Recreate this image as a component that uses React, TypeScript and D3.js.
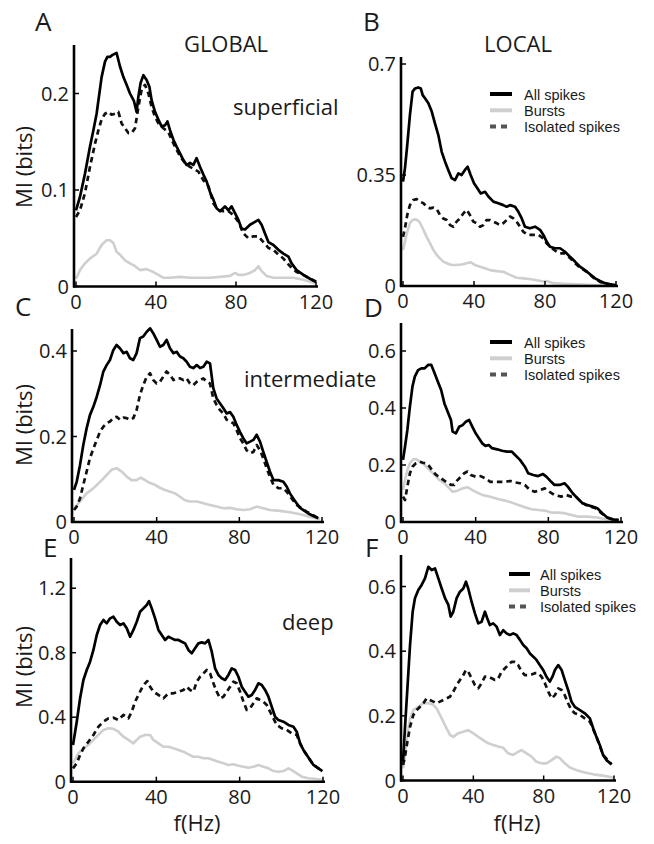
import React from "react";
import * as d3 from "d3";

type P = [number, number];

// ---------- DATA (f in Hz, MI in bits) ----------
const xTicks = [0, 40, 80, 120];
const yTicksA = [0, 0.1, 0.2];
const yTicksB = [0, 0.35, 0.7];
const yTicksC = [0, 0.2, 0.4];
const yTicksD = [0, 0.2, 0.4, 0.6];
const yTicksE = [0, 0.4, 0.8, 1.2];
const yTicksF = [0, 0.2, 0.4, 0.6];

const legendLabels = ["All spikes", "Bursts", "Isolated spikes"];
const columnTitles = ["GLOBAL", "LOCAL"];
const layerLabels = ["superficial", "intermediate", "deep"];
const panelLetters = ["A", "B", "C", "D", "E", "F"];

const aAll: P[] = [[0,0.079],[2,0.093],[4.5,0.117],[7,0.145],[8.7,0.162],[10.3,0.179],[12.8,0.217],[14.5,0.233],[15.7,0.238],[17,0.238],[18.3,0.24],[20.3,0.242],[22,0.228],[23.7,0.217],[25.3,0.209],[27,0.2],[29,0.192],[30.3,0.181],[31.2,0.197],[32.3,0.211],[33.7,0.219],[35.3,0.214],[36.7,0.207],[37.8,0.193],[39.5,0.181],[41.2,0.173],[42.8,0.166],[44.5,0.167],[45.7,0.171],[47,0.162],[48.7,0.152],[50.3,0.145],[52,0.138],[53.7,0.131],[55.3,0.126],[57,0.128],[58.7,0.126],[60.3,0.133],[62,0.124],[63.7,0.116],[65.3,0.109],[67,0.098],[68.7,0.09],[70.3,0.081],[72,0.078],[74.5,0.083],[76.2,0.079],[77.8,0.083],[79.5,0.076],[81.2,0.069],[82.8,0.06],[84.5,0.059],[87,0.064],[89.5,0.067],[91.2,0.069],[92.8,0.064],[94.5,0.055],[96.2,0.046],[98.7,0.043],[101.2,0.038],[103.7,0.034],[106.2,0.031],[107.8,0.024],[110.3,0.017],[113.7,0.012],[117,0.008],[120,0.005]];
const aIsolated: P[] = [[0,0.072],[2,0.079],[4.5,0.097],[7,0.124],[9.5,0.148],[11.2,0.162],[12.8,0.173],[14.5,0.179],[16.2,0.181],[17.8,0.178],[19.5,0.179],[21.2,0.181],[22.8,0.169],[24.5,0.164],[26.2,0.159],[27.8,0.159],[29.5,0.164],[31.2,0.186],[32.8,0.204],[34.5,0.209],[36.2,0.2],[37.8,0.186],[39.5,0.176],[41.2,0.169],[43.7,0.164],[46.2,0.16],[47.8,0.152],[49.5,0.145],[52,0.135],[54.5,0.128],[57,0.124],[59.5,0.121],[61.2,0.119],[63.7,0.11],[66.2,0.104],[68.7,0.086],[71.2,0.079],[73.7,0.078],[76.2,0.078],[78.7,0.074],[81.2,0.067],[83.7,0.055],[86.2,0.05],[88.7,0.052],[91.2,0.052],[93.7,0.046],[96.2,0.04],[98.7,0.038],[101.2,0.033],[103.7,0.029],[107,0.021],[110.3,0.015],[113.7,0.012],[117,0.008],[120,0.005]];
const aBursts: P[] = [[0,0.008],[2,0.017],[4.5,0.024],[7,0.029],[10.3,0.034],[12.8,0.043],[15.3,0.048],[17,0.048],[18.7,0.045],[20.3,0.036],[22,0.033],[24.5,0.027],[27,0.024],[29.5,0.021],[32,0.017],[35.3,0.018],[38.7,0.015],[41.2,0.012],[43.7,0.009],[47,0.009],[52,0.01],[57,0.009],[62,0.009],[67,0.009],[72,0.01],[77,0.011],[79.5,0.014],[81.2,0.012],[83.7,0.012],[87,0.014],[89.5,0.017],[91.2,0.021],[92.8,0.016],[95.3,0.011],[98.7,0.009],[103.7,0.009],[108.7,0.009],[113.7,0.007],[120,0.003]];

const bAll: P[] = [[0,0.329],[1.1,0.371],[2.4,0.445],[3.9,0.539],[5.4,0.613],[6.8,0.623],[8.6,0.626],[10,0.623],[11.1,0.602],[12.4,0.592],[14.3,0.576],[16.2,0.55],[18,0.513],[19.9,0.476],[21.8,0.423],[23.7,0.392],[25.5,0.366],[27.4,0.34],[29.3,0.334],[31.2,0.355],[33,0.35],[34.9,0.366],[36.4,0.376],[38.1,0.35],[40,0.324],[41.9,0.308],[43.8,0.292],[46.2,0.297],[48.1,0.282],[50.9,0.266],[53.7,0.261],[56.5,0.255],[58.4,0.25],[60.3,0.255],[63.1,0.25],[65,0.234],[66.9,0.213],[68.7,0.187],[71.5,0.182],[74.4,0.187],[77.2,0.177],[79.1,0.161],[80.9,0.14],[82.8,0.124],[85.6,0.119],[88.5,0.119],[91.3,0.108],[94.1,0.092],[96.9,0.077],[99.7,0.061],[102.5,0.05],[105.4,0.037],[108.2,0.024],[111,0.016],[113.8,0.009],[116.6,0.005],[120,0.003]];
const bIsolated: P[] = [[0,0.155],[1.1,0.182],[2.4,0.224],[3.9,0.255],[5.8,0.271],[7.7,0.274],[9.6,0.266],[11.5,0.261],[13.3,0.25],[15.2,0.245],[17.1,0.247],[19,0.243],[20.8,0.224],[22.7,0.213],[24.6,0.208],[26.5,0.192],[28.4,0.187],[30.2,0.203],[32.1,0.213],[34,0.229],[35.9,0.24],[37.7,0.224],[39.6,0.203],[41.5,0.198],[43.4,0.187],[45.3,0.192],[47.1,0.208],[49,0.208],[50.9,0.203],[52.8,0.198],[54.6,0.192],[56.5,0.198],[58.4,0.208],[60.3,0.219],[62.2,0.213],[64,0.203],[65.9,0.187],[67.8,0.171],[70.6,0.161],[73.4,0.161],[76.3,0.161],[79.1,0.15],[80.9,0.135],[83.8,0.119],[86.6,0.108],[88.5,0.103],[91.3,0.103],[94.1,0.088],[96.9,0.072],[99.7,0.058],[103.5,0.045],[107.3,0.026],[111,0.013],[114.7,0.007],[120,0.003]];
const bBursts: P[] = [[0,0.114],[1.1,0.14],[2.4,0.171],[3.9,0.198],[5.4,0.208],[7.3,0.21],[9.2,0.203],[11.1,0.182],[13.3,0.155],[15.2,0.135],[17.1,0.114],[19,0.098],[20.8,0.087],[22.7,0.077],[24.6,0.072],[27.4,0.066],[30.2,0.066],[33,0.068],[35.9,0.072],[38.1,0.075],[40.6,0.066],[43.4,0.061],[46.2,0.056],[49,0.05],[52.8,0.047],[56.5,0.045],[60.3,0.035],[64,0.026],[67.8,0.024],[71.5,0.022],[75.3,0.018],[79.1,0.014],[80.9,0.016],[84.7,0.009],[90.3,0.007],[97.8,0.005],[107.3,0.003],[120,0.001]];

const cAll: P[] = [[0,0.075],[1.3,0.094],[2.9,0.133],[4.5,0.18],[6.1,0.219],[7.7,0.25],[9.4,0.27],[11,0.293],[12.6,0.32],[14.2,0.352],[15.8,0.367],[17.4,0.379],[19,0.402],[20.6,0.414],[22.3,0.406],[23.9,0.395],[25.5,0.398],[27.1,0.383],[28.7,0.379],[30.3,0.395],[31.9,0.43],[33.5,0.434],[35.2,0.445],[36.8,0.453],[38.4,0.441],[40,0.426],[41.6,0.41],[43.2,0.414],[44.8,0.426],[46.5,0.406],[48.1,0.395],[49.7,0.398],[51.3,0.387],[52.9,0.383],[54.5,0.375],[56.1,0.363],[57.7,0.36],[59.4,0.367],[61,0.36],[62.6,0.363],[64.2,0.375],[65.8,0.371],[67.4,0.313],[69,0.289],[70.6,0.278],[72.3,0.266],[73.9,0.254],[75.5,0.257],[77.1,0.246],[78.7,0.227],[80.3,0.211],[81.9,0.196],[83.5,0.184],[85.2,0.188],[86.8,0.192],[88.4,0.204],[90,0.188],[91.6,0.164],[93.2,0.141],[94.8,0.118],[96.5,0.098],[98.9,0.098],[101.3,0.094],[102.9,0.083],[104.5,0.067],[106.1,0.055],[107.7,0.044],[109.4,0.033],[111,0.028],[113.4,0.02],[115.8,0.014],[118.2,0.009]];
const cIsolated: P[] = [[0,0.028],[1.3,0.036],[2.9,0.055],[4.5,0.087],[6.1,0.118],[7.7,0.149],[9.4,0.172],[11,0.192],[12.6,0.211],[14.2,0.223],[15.8,0.231],[17.4,0.235],[19,0.243],[20.6,0.246],[22.3,0.239],[23.9,0.244],[25.5,0.243],[27.1,0.239],[28.7,0.243],[30.3,0.262],[31.9,0.297],[33.5,0.32],[35.2,0.34],[36.8,0.348],[38.4,0.332],[40,0.324],[41.6,0.328],[43.2,0.34],[44.8,0.352],[46.5,0.344],[48.1,0.332],[49.7,0.336],[51.3,0.336],[52.9,0.332],[54.5,0.336],[56.1,0.324],[57.7,0.32],[59.4,0.328],[61,0.332],[62.6,0.336],[64.2,0.328],[65.8,0.324],[67.4,0.289],[69,0.274],[70.6,0.262],[72.3,0.254],[73.9,0.239],[75.5,0.235],[77.1,0.231],[78.7,0.215],[80.3,0.196],[81.9,0.184],[83.5,0.168],[85.2,0.161],[86.8,0.164],[88.4,0.18],[90,0.168],[91.6,0.149],[93.2,0.126],[94.8,0.106],[96.5,0.087],[98.9,0.079],[101.3,0.079],[102.9,0.071],[105.3,0.055],[107.7,0.04],[110.2,0.032],[112.6,0.024],[115,0.018],[118.2,0.009]];
const cBursts: P[] = [[0,0.032],[2.9,0.048],[6.1,0.067],[9.4,0.079],[12.6,0.094],[15.8,0.11],[18.2,0.122],[20.6,0.126],[23.1,0.118],[25.5,0.106],[27.9,0.098],[30.3,0.098],[32.3,0.104],[34.4,0.098],[36.8,0.091],[39.2,0.087],[41.6,0.08],[44,0.075],[46.5,0.071],[48.9,0.067],[51.3,0.059],[53.7,0.051],[56.1,0.048],[59.4,0.048],[62.6,0.044],[65.8,0.04],[69,0.036],[72.3,0.032],[75.5,0.033],[78.7,0.03],[81.9,0.028],[85.2,0.03],[88.4,0.036],[91.6,0.032],[94.8,0.028],[99.7,0.026],[104.5,0.023],[109.4,0.018],[114.2,0.012],[119,0.007]];

const dAll: P[] = [[0,0.218],[1.1,0.264],[2.4,0.323],[3.8,0.405],[5.2,0.475],[6.5,0.51],[8.3,0.533],[10.1,0.539],[11.9,0.539],[13.8,0.551],[15.6,0.551],[17.4,0.522],[19.2,0.492],[21,0.463],[22.8,0.416],[24.6,0.387],[26.4,0.358],[27.3,0.317],[29.1,0.311],[30.9,0.334],[32.8,0.34],[34.6,0.352],[36.4,0.358],[38.2,0.334],[40,0.311],[41.8,0.294],[43.6,0.276],[45.4,0.267],[47.2,0.27],[49,0.259],[51.8,0.255],[54.5,0.25],[57.2,0.247],[59.9,0.247],[61.7,0.235],[64.4,0.218],[67.1,0.194],[68.9,0.171],[71.7,0.165],[74.4,0.161],[77.1,0.168],[78.9,0.159],[81.6,0.141],[83.4,0.13],[86.2,0.13],[88.9,0.136],[90.7,0.124],[93.4,0.101],[96.1,0.083],[98.8,0.066],[101.5,0.06],[104.3,0.054],[107,0.048],[109.7,0.031],[112.4,0.016],[115.1,0.009],[118.7,0.007]];
const dIsolated: P[] = [[0,0.089],[1.1,0.077],[2.4,0.124],[3.8,0.171],[5.2,0.194],[7.1,0.206],[8.9,0.212],[11,0.208],[12.9,0.206],[14.7,0.194],[16.5,0.177],[18.3,0.165],[21,0.153],[23.7,0.141],[26.4,0.13],[28.2,0.13],[30,0.147],[31.9,0.159],[33.7,0.171],[35.5,0.177],[37.3,0.165],[40,0.159],[42.7,0.161],[45.4,0.153],[48.1,0.141],[50.9,0.141],[53.6,0.141],[56.3,0.141],[59,0.144],[61.7,0.139],[64.4,0.136],[67.1,0.13],[69.9,0.112],[72.6,0.106],[75.3,0.112],[78,0.118],[80.7,0.106],[83.4,0.095],[87.1,0.089],[89.8,0.095],[92.5,0.089],[95.2,0.089],[97.9,0.071],[100.6,0.06],[103.3,0.054],[106.1,0.048],[108.8,0.033],[112.4,0.016],[116,0.009],[118.7,0.007]];
const dBursts: P[] = [[0,0.112],[1.1,0.147],[2.4,0.182],[3.8,0.206],[5.6,0.22],[7.4,0.22],[9.2,0.212],[11.9,0.2],[14.7,0.182],[17.4,0.165],[20.1,0.147],[22.8,0.136],[25.5,0.118],[27.3,0.106],[30,0.11],[32.8,0.118],[35.5,0.122],[38.2,0.112],[40.9,0.103],[43.6,0.095],[46.3,0.091],[49,0.087],[52.7,0.08],[56.3,0.075],[59.9,0.068],[63.5,0.06],[67.1,0.052],[70.8,0.045],[74.4,0.042],[78,0.04],[81.6,0.033],[85.2,0.033],[88.9,0.031],[92.5,0.025],[96.1,0.019],[101.5,0.019],[107,0.016],[112.4,0.009],[118.7,0.005]];

const eAll: P[] = [[0,0.228],[1.8,0.372],[3.4,0.517],[5,0.631],[6.6,0.693],[8.2,0.744],[9.8,0.817],[11.4,0.91],[13,0.972],[14.6,1.003],[16.2,0.982],[17.8,1.013],[19.4,1.023],[21,0.992],[22.6,0.972],[24.2,0.982],[25.8,0.951],[27.4,0.899],[29,0.941],[30.6,0.992],[32.2,1.054],[33.8,1.075],[35.4,1.096],[36.5,1.12],[37.8,1.075],[39.4,1.013],[41,0.941],[42.6,0.91],[44.2,0.879],[45.8,0.899],[47.4,0.889],[49,0.879],[50.6,0.879],[52.2,0.868],[53.8,0.858],[55.4,0.817],[57,0.796],[58.6,0.827],[60.2,0.858],[61.8,0.864],[63.4,0.858],[65,0.879],[66.6,0.806],[68.2,0.703],[69.8,0.662],[71.4,0.641],[73,0.631],[74.6,0.662],[76.2,0.703],[77.8,0.693],[79.4,0.651],[81,0.589],[82.6,0.558],[84.2,0.527],[85.8,0.538],[87.4,0.569],[89,0.61],[90.6,0.6],[92.2,0.569],[93.8,0.527],[95.4,0.465],[97,0.403],[98.6,0.383],[101,0.372],[103.4,0.352],[105.8,0.341],[107.4,0.31],[109,0.238],[110.6,0.197],[112.2,0.166],[113.8,0.135],[115.4,0.104],[117.8,0.083],[119.7,0.066]];
const eIsolated: P[] = [[0,0.083],[1.8,0.114],[3.4,0.166],[5,0.207],[7.4,0.248],[9.8,0.29],[12.2,0.341],[14.6,0.372],[17,0.393],[19.4,0.397],[21.8,0.383],[24.2,0.414],[26.6,0.393],[28.2,0.434],[29.8,0.496],[31.4,0.538],[33,0.579],[34.6,0.61],[35.7,0.624],[37,0.589],[38.6,0.558],[41,0.538],[43.4,0.517],[45.8,0.548],[48.2,0.548],[50.6,0.558],[53,0.569],[54.6,0.589],[56.2,0.569],[57.8,0.558],[59.4,0.62],[61,0.651],[62.6,0.672],[64.2,0.693],[65.8,0.672],[67.4,0.61],[69,0.558],[70.6,0.517],[72.2,0.527],[73.8,0.558],[75.4,0.589],[77,0.62],[78.6,0.61],[80.2,0.558],[81.8,0.496],[83.4,0.445],[85,0.455],[86.6,0.486],[88.2,0.517],[89.8,0.507],[91.4,0.496],[93,0.476],[94.6,0.434],[96.2,0.393],[97.8,0.352],[100.2,0.331],[102.6,0.321],[105,0.3],[107.4,0.29],[109,0.238],[110.6,0.197],[113,0.15],[115.4,0.104],[117.8,0.083],[119.7,0.066]];
const eBursts: P[] = [[0,0.114],[2.6,0.176],[5,0.207],[7.4,0.228],[9.8,0.259],[12.2,0.29],[14.6,0.321],[17,0.331],[19.4,0.328],[21.8,0.31],[24.2,0.279],[26.6,0.259],[29,0.238],[30.6,0.259],[32.2,0.279],[34.6,0.29],[37,0.29],[38.6,0.259],[41,0.238],[43.4,0.217],[45.8,0.217],[48.2,0.207],[50.6,0.197],[53,0.186],[55.4,0.17],[57.8,0.155],[60.2,0.155],[62.6,0.145],[65,0.145],[67.4,0.135],[69.8,0.124],[72.2,0.114],[74.6,0.104],[77,0.108],[79.4,0.099],[81.8,0.093],[84.2,0.087],[86.6,0.093],[89,0.104],[91.4,0.093],[93.8,0.083],[96.2,0.066],[98.6,0.062],[101,0.066],[103.4,0.083],[105,0.072],[107.4,0.052],[109.8,0.031],[113,0.021],[117,0.017],[120,0.011]];

const fAll: P[] = [[0,0.058],[1.1,0.161],[2.5,0.285],[4,0.419],[5.5,0.522],[6.8,0.564],[8.7,0.589],[10.6,0.605],[12.5,0.625],[14.4,0.661],[16.3,0.651],[18.2,0.656],[20.1,0.625],[22,0.594],[23.9,0.564],[25.8,0.543],[27.1,0.507],[28.6,0.522],[30.5,0.564],[32.4,0.584],[34.3,0.594],[35.8,0.615],[37.1,0.594],[39,0.553],[40.9,0.517],[42.8,0.486],[44.7,0.491],[46.6,0.522],[47.9,0.502],[49.4,0.481],[51.3,0.486],[53.2,0.476],[55.1,0.45],[57,0.465],[58.9,0.455],[60.8,0.45],[62.7,0.455],[64.6,0.45],[66.5,0.435],[68.4,0.419],[70.3,0.409],[72.2,0.393],[74.1,0.383],[75.9,0.373],[77.8,0.357],[79.7,0.342],[81.6,0.321],[83.5,0.306],[85,0.321],[86.4,0.342],[88.3,0.357],[90.2,0.342],[92,0.311],[93.9,0.28],[95.8,0.244],[97.7,0.228],[100.6,0.218],[103.4,0.208],[106.3,0.192],[108.2,0.161],[110,0.135],[111.9,0.11],[113.8,0.079],[115.7,0.063],[118.6,0.05]];
const fIsolated: P[] = [[0,0.048],[1.1,0.074],[2.5,0.12],[4,0.166],[5.9,0.203],[7.8,0.218],[9.7,0.228],[11.6,0.239],[13.4,0.254],[15.3,0.249],[17.2,0.244],[19.1,0.239],[21,0.244],[22.9,0.249],[24.8,0.254],[26.7,0.259],[28.6,0.275],[30.5,0.295],[32.4,0.311],[34.3,0.326],[35.8,0.342],[37.1,0.337],[39,0.316],[40.9,0.295],[42.8,0.285],[44.7,0.301],[46.6,0.321],[48.5,0.321],[50.4,0.316],[52.3,0.311],[54.2,0.316],[56.1,0.337],[58,0.347],[59.8,0.357],[61.7,0.367],[63.6,0.367],[65.5,0.357],[67.4,0.337],[69.3,0.326],[71.2,0.326],[73.1,0.328],[75,0.332],[76.9,0.332],[78.8,0.321],[80.7,0.301],[82.6,0.275],[84.5,0.254],[86.4,0.264],[88.3,0.285],[90.2,0.28],[92,0.264],[93.9,0.239],[95.8,0.218],[97.7,0.208],[100.6,0.203],[103.4,0.192],[106.3,0.182],[107.2,0.171],[110,0.135],[113.8,0.079],[118.6,0.05]];
const fBursts: P[] = [[0,0.038],[1.1,0.079],[2.5,0.141],[4,0.192],[5.9,0.218],[8.7,0.228],[11.6,0.239],[14.4,0.239],[17.2,0.234],[19.1,0.223],[21,0.203],[22.9,0.182],[24.8,0.161],[26.7,0.141],[28.6,0.135],[31.4,0.146],[34.3,0.151],[37.1,0.156],[40,0.146],[42.8,0.135],[45.6,0.125],[48.5,0.115],[51.3,0.11],[54.2,0.105],[57,0.101],[59.8,0.084],[62.7,0.079],[65.5,0.089],[67.4,0.094],[70.3,0.084],[73.1,0.074],[75.9,0.058],[78.8,0.053],[81.6,0.053],[84.5,0.063],[87.3,0.074],[89.2,0.069],[92,0.053],[94.9,0.04],[98.7,0.032],[103.4,0.025],[108.2,0.019],[113.8,0.015],[119.5,0.009]];

// ---------- LAYOUT ----------
const FONT = "'Open Sans', 'DejaVu Sans', sans-serif";
const LEGEND_FONT = "'Liberation Sans', Arial, sans-serif";
const BURST_COLOR = "#cfcfcf";
const TEXT_COLOR = "#1a1a1a";

interface PanelLayout {
  left: number; right: number; base: number; top: number; pxPerUnit: number;
}

interface PanelSpec {
  layout: PanelLayout;
  all: P[]; bursts: P[]; isolated: P[];
  yTicks: number[];
  legend?: { x1: number; x2: number; tx: number; y: number };
}

const fmt = (v: number) => (v === 0 ? "0" : String(v));

const panels: PanelSpec[] = [
  { layout: { left: 76, right: 316, base: 286.5, top: 45, pxPerUnit: 965 }, all: aAll, bursts: aBursts, isolated: aIsolated, yTicks: yTicksA },
  { layout: { left: 403, right: 616, base: 286, top: 57, pxPerUnit: 317.14 }, all: bAll, bursts: bBursts, isolated: bIsolated, yTicks: yTicksB, legend: { x1: 490, x2: 512, tx: 524, y: 94 } },
  { layout: { left: 74, right: 322, base: 522, top: 329, pxPerUnit: 427.5 }, all: cAll, bursts: cBursts, isolated: cIsolated, yTicks: yTicksC },
  { layout: { left: 403, right: 621, base: 522, top: 323, pxPerUnit: 285 }, all: dAll, bursts: dBursts, isolated: dIsolated, yTicks: yTicksD, legend: { x1: 490, x2: 512, tx: 524, y: 342 } },
  { layout: { left: 73, right: 323, base: 781.7, top: 558, pxPerUnit: 161.25 }, all: eAll, bursts: eBursts, isolated: eIsolated, yTicks: yTicksE },
  { layout: { left: 403, right: 614, base: 780.5, top: 555, pxPerUnit: 323.3 }, all: fAll, bursts: fBursts, isolated: fIsolated, yTicks: yTicksF, legend: { x1: 509, x2: 530, tx: 540, y: 574 } },
];

const letterPos: [number, number][] = [[35, 31], [363, 31], [15, 316], [364, 317], [43, 557], [365, 557]];

function Panel({ spec }: { spec: PanelSpec }) {
  const L = spec.layout;
  const yMax = (L.base - L.top) / L.pxPerUnit;
  const x = d3.scaleLinear().domain([0, 120]).range([L.left, L.right]);
  const y = d3.scaleLinear().domain([0, yMax]).range([L.base, L.top]);
  const line = d3.line<P>().x((d) => x(d[0])).y((d) => y(d[1])).curve(d3.curveLinear);
  const axisX = L.left - 2;
  return (
    <g>
      <path d={line(spec.bursts) || ""} fill="none" stroke={BURST_COLOR} strokeWidth={2.6} strokeLinejoin="round" />
      <path d={line(spec.isolated) || ""} fill="none" stroke="#111" strokeWidth={2.7} strokeDasharray="5.5 4" strokeLinejoin="round" />
      <path d={line(spec.all) || ""} fill="none" stroke="#000" strokeWidth={2.7} strokeLinejoin="round" />
      <line x1={axisX} x2={axisX} y1={L.base + 1} y2={L.top} stroke="#000" strokeWidth={2.6} />
      <line x1={axisX - 1} x2={x(120) + 2} y1={L.base} y2={L.base} stroke="#000" strokeWidth={2.6} />
      {xTicks.map((t) => (
        <g key={"x" + t}>
          <line x1={x(t)} x2={x(t)} y1={L.base} y2={L.base - 5} stroke="#000" strokeWidth={1.5} />
          <text x={x(t)} y={L.base + 22} textAnchor="middle" fontSize={20} fontFamily={FONT} fill={TEXT_COLOR}>{t}</text>
        </g>
      ))}
      {spec.yTicks.map((t) => (
        <g key={"y" + t}>
          <line x1={axisX} x2={axisX + 5} y1={y(t)} y2={y(t)} stroke="#000" strokeWidth={1.5} />
          <text x={axisX - 5} y={y(t) + 7} textAnchor="end" fontSize={20} fontFamily={FONT} fill={TEXT_COLOR}>{fmt(t)}</text>
        </g>
      ))}
      {spec.legend && (
        <g>
          {legendLabels.map((lab, i) => {
            const ly = spec.legend!.y + i * 16.3;
            const stroke = i === 0 ? "#000" : i === 1 ? BURST_COLOR : "#555";
            return (
              <g key={lab}>
                <line x1={spec.legend!.x1} x2={spec.legend!.x2} y1={ly} y2={ly} stroke={stroke} strokeWidth={4} strokeDasharray={i === 2 ? "6 5" : undefined} />
                <text x={spec.legend!.tx} y={ly + 5.5} fontSize={14.5} fontFamily={LEGEND_FONT} fill={TEXT_COLOR}>{lab}</text>
              </g>
            );
          })}
        </g>
      )}
    </g>
  );
}

export default function App() {
  return (
    <div style={{ position: "absolute", left: 0, top: 0, width: 654, height: 844, background: "#fff" }}>
      <svg width={654} height={844} style={{ display: "block" }}>
        <rect width={654} height={844} fill="#fff" />
        {panels.map((p, i) => <Panel key={i} spec={p} />)}
        {panelLetters.map((l, i) => (
          <text key={l} x={letterPos[i][0]} y={letterPos[i][1]} fontSize={26} fontFamily={FONT} fill={TEXT_COLOR}>{l}</text>
        ))}
        <text x={226} y={52} textAnchor="middle" fontSize={22} fontFamily={FONT} fill={TEXT_COLOR}>{columnTitles[0]}</text>
        <text x={518} y={52} textAnchor="middle" fontSize={22} fontFamily={FONT} fill={TEXT_COLOR}>{columnTitles[1]}</text>
        <text x={233} y={115} fontSize={22} fontFamily={FONT} fill={TEXT_COLOR}>{layerLabels[0]}</text>
        <text x={244} y={387} fontSize={22} fontFamily={FONT} fill={TEXT_COLOR}>{layerLabels[1]}</text>
        <text x={282} y={630} fontSize={22} fontFamily={FONT} fill={TEXT_COLOR}>{layerLabels[2]}</text>
        {[167, 425, 667].map((cy) => (
          <text key={cy} transform={`translate(32,${cy}) rotate(-90)`} textAnchor="middle" fontSize={22} fontFamily={FONT} fill={TEXT_COLOR}>MI (bits)</text>
        ))}
        <text x={197} y={831} textAnchor="middle" fontSize={22} fontFamily={FONT} fill={TEXT_COLOR}>f(Hz)</text>
        <text x={517} y={831} textAnchor="middle" fontSize={22} fontFamily={FONT} fill={TEXT_COLOR}>f(Hz)</text>
      </svg>
    </div>
  );
}
